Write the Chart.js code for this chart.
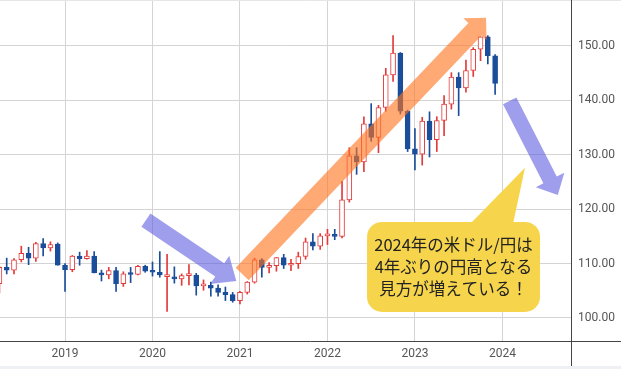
<!DOCTYPE html>
<html>
<head>
<meta charset="utf-8">
<script src="https://cdn.jsdelivr.net/npm/chart.js@4.4.1/dist/chart.umd.min.js"></script>
<style>
body{margin:0;background:#eef0f4;}
#wrap{width:621px;height:366px;background:#fff;}
</style>
</head>
<body>
<div id="wrap"><canvas id="c" width="621" height="366"></canvas></div>
<script>
// monthly USD/JPY candles, Apr 2018 .. Dec 2023
var months = ['2018-04','2018-05','2018-06','2018-07','2018-08','2018-09','2018-10','2018-11','2018-12',
  '2019-01','2019-02','2019-03','2019-04','2019-05','2019-06','2019-07','2019-08','2019-09','2019-10','2019-11','2019-12',
  '2020-01','2020-02','2020-03','2020-04','2020-05','2020-06','2020-07','2020-08','2020-09','2020-10','2020-11','2020-12',
  '2021-01','2021-02','2021-03','2021-04','2021-05','2021-06','2021-07','2021-08','2021-09','2021-10','2021-11','2021-12',
  '2022-01','2022-02','2022-03','2022-04','2022-05','2022-06','2022-07','2022-08','2022-09','2022-10','2022-11','2022-12',
  '2023-01','2023-02','2023-03','2023-04','2023-05','2023-06','2023-07','2023-08','2023-09','2023-10','2023-11','2023-12'];
var opens  = [106.3,109.3,108.8,110.7,111.9,111.0,113.7,112.9,113.6,
  109.7,108.9,111.4,110.9,111.4,108.3,107.9,108.7,106.3,108.1,108.0,109.5,
  108.6,108.4,107.6,107.5,107.2,107.8,107.9,105.9,106.0,105.5,104.7,104.3,
  103.2,104.7,106.6,110.7,109.3,109.6,111.1,109.7,110.0,111.3,114.0,113.2,
  115.1,115.3,115.0,121.7,129.8,128.7,135.7,133.2,138.7,144.7,148.7,138.0,
  131.1,130.1,136.2,132.8,136.3,139.3,144.3,142.3,145.5,149.4,151.7,148.2];
var highs  = [109.5,111.0,110.9,113.2,113.0,113.9,114.6,114.0,113.8,
  110.0,111.5,112.1,112.4,112.2,108.8,109.3,109.3,108.5,109.3,109.7,109.7,
  110.3,112.2,111.7,109.4,108.1,109.8,108.2,107.0,106.6,106.1,105.7,104.7,
  104.9,106.7,111.0,110.9,110.2,111.1,111.7,110.8,112.1,114.7,115.5,115.5,
  116.3,116.3,125.1,131.3,131.3,137.0,139.4,139.1,145.9,151.9,148.8,138.2,
  134.8,136.9,137.9,137.0,140.9,145.1,145.1,147.4,149.7,151.7,151.9,148.4];
var lows   = [104.6,108.1,108.1,110.3,109.8,110.4,111.4,112.3,109.7,
  104.9,108.5,109.7,110.8,108.3,106.8,107.2,104.9,105.8,106.5,107.9,108.4,
  107.7,107.5,101.2,106.4,106.0,106.1,104.2,105.1,104.0,104.0,103.2,102.9,
  102.6,104.4,106.4,107.5,108.3,108.6,109.1,108.7,109.1,110.8,112.5,112.6,
  113.5,114.4,114.7,121.3,126.4,126.9,132.5,130.4,138.0,143.5,137.5,130.6,
  127.2,128.1,129.6,130.6,133.5,138.4,137.2,141.5,144.4,147.3,146.7,141.1];
var closes = [109.3,108.8,110.7,111.9,111.0,113.7,112.9,113.5,109.7,
  108.9,111.4,110.9,111.4,108.3,107.9,108.7,106.3,108.1,108.0,109.5,108.6,
  108.4,107.9,107.9,107.2,107.8,107.9,105.9,106.0,105.5,104.7,104.3,103.2,
  104.7,106.6,110.7,109.3,109.6,111.1,109.7,110.0,111.3,114.0,113.2,115.1,
  115.3,115.0,121.7,129.8,128.7,135.7,133.2,138.7,144.7,148.7,138.0,131.1,
  130.1,136.2,132.8,136.3,139.3,144.3,142.3,145.5,149.4,151.7,148.2,143.1];

var yearTicks  = [0, 12, 24, 36, 48, 60];
var yearLabels = ['2019', '2020', '2021', '2022', '2023', '2024'];
var priceTicks = [100, 110, 120, 130, 140, 150];

var RED = '#e23b3b', BLUE = '#1a4d9a';

// month index, Jan 2019 = 0
var xs = months.map(function(m){
  var p = m.split('-');
  return (parseInt(p[0]) - 2019) * 12 + parseInt(p[1]) - 1;
});
var up = closes.map(function(c, i){ return c >= opens[i]; });

// annotations in data units (month index, price)
var arrows = [
  {from: [24.3, 108.1], to: [57.75, 155.2], w: 18, hl: 16, hw: 16, color: 'rgba(255,116,33,0.62)'},
  {from: [11.1, 118.0], to: [23.5, 106.8], w: 16, hl: 20, hw: 17, color: 'rgba(88,88,222,0.58)'},
  {from: [61.0, 139.9], to: [67.6, 122.6], w: 15, hl: 17, hw: 16, color: 'rgba(88,88,222,0.58)'}
];
var bubble = {x0: 41.43, x1: 65.16, y0: 117.65, y1: 101.1, tip: [63.1, 127.6], baseX: [55.56, 61.45],
  lines: ['2024年の米ドル/円は', '4年ぶりの円高となる', '見方が増えている！']};

function drawArrow(ctx, x0, y0, x1, y1, w, hl, hw, color) {
  var dx = x1 - x0, dy = y1 - y0, L = Math.hypot(dx, dy);
  var ux = dx / L, uy = dy / L, nx = -uy, ny = ux;
  var bx = x1 - ux * hl, by = y1 - uy * hl;
  ctx.beginPath();
  ctx.moveTo(x0 + nx * w / 2, y0 + ny * w / 2);
  ctx.lineTo(bx + nx * w / 2, by + ny * w / 2);
  ctx.lineTo(bx + nx * hw, by + ny * hw);
  ctx.lineTo(x1, y1);
  ctx.lineTo(bx - nx * hw, by - ny * hw);
  ctx.lineTo(bx - nx * w / 2, by - ny * w / 2);
  ctx.lineTo(x0 - nx * w / 2, y0 - ny * w / 2);
  ctx.closePath();
  ctx.fillStyle = color;
  ctx.fill();
}

var overlay = {
  id: 'overlay',
  afterDatasetsDraw: function(chart) {
    var ctx = chart.ctx, sx = chart.scales.x, sy = chart.scales.y;
    ctx.save();
    arrows.forEach(function(r){
      drawArrow(ctx, sx.getPixelForValue(r.from[0]), sy.getPixelForValue(r.from[1]),
        sx.getPixelForValue(r.to[0]), sy.getPixelForValue(r.to[1]), r.w, r.hl, r.hw, r.color);
    });
    // callout
    var bx0 = sx.getPixelForValue(bubble.x0), bx1 = sx.getPixelForValue(bubble.x1);
    var by0 = sy.getPixelForValue(bubble.y0), by1 = sy.getPixelForValue(bubble.y1);
    ctx.fillStyle = '#f6d54d';
    ctx.beginPath();
    ctx.roundRect(bx0, by0, bx1 - bx0, by1 - by0, 15);
    ctx.fill();
    ctx.beginPath();
    ctx.moveTo(sx.getPixelForValue(bubble.baseX[0]), by0 + 2);
    ctx.lineTo(sx.getPixelForValue(bubble.tip[0]), sy.getPixelForValue(bubble.tip[1]));
    ctx.lineTo(sx.getPixelForValue(bubble.baseX[1]), by0 + 2);
    ctx.closePath();
    ctx.fill();
    ctx.fillStyle = '#222';
    ctx.font = '16.5px "Noto Sans CJK JP"';
    ctx.textAlign = 'center';
    ctx.textBaseline = 'middle';
    var cx = (bx0 + bx1) / 2, cy = (by0 + by1) / 2;
    bubble.lines.forEach(function(t, i){ ctx.fillText(t, cx, cy + (i - 1) * 22); });
    ctx.restore();
  },
  afterDraw: function(chart) {
    var ctx = chart.ctx, a = chart.chartArea;
    ctx.save();
    ctx.strokeStyle = '#e6e6e6';
    ctx.beginPath(); ctx.moveTo(0, 0.5); ctx.lineTo(chart.width, 0.5); ctx.stroke();
    ctx.strokeStyle = '#444';
    ctx.lineWidth = 1;
    ctx.beginPath();
    ctx.moveTo(0, Math.round(a.bottom) + 0.5); ctx.lineTo(chart.width, Math.round(a.bottom) + 0.5);
    ctx.moveTo(Math.round(a.right) + 0.5, 0); ctx.lineTo(Math.round(a.right) + 0.5, chart.height);
    ctx.stroke();
    ctx.restore();
  }
};

new Chart(document.getElementById('c'), {
  type: 'bar',
  data: {
    datasets: [
      {
        label: 'wick',
        data: xs.map(function(x, i){ return {x: x, y: [lows[i], highs[i]]}; }),
        backgroundColor: up.map(function(u){ return u ? RED : BLUE; }),
        barThickness: 1,
        grouped: false,
        order: 2
      },
      {
        label: 'body',
        data: xs.map(function(x, i){ return {x: x, y: [opens[i], closes[i]]}; }),
        backgroundColor: up.map(function(u){ return u ? '#ffffff' : BLUE; }),
        borderColor: up.map(function(u){ return u ? RED : BLUE; }),
        borderWidth: 1,
        borderSkipped: false,
        barThickness: 5,
        minBarLength: 2,
        grouped: false,
        order: 1
      }
    ]
  },
  options: {
    responsive: false,
    animation: false,
    layout: {padding: {top: 1, left: 0, right: 0, bottom: 0}},
    plugins: {legend: {display: false}, tooltip: {enabled: false}},
    scales: {
      x: {
        type: 'linear',
        offset: false,
        min: -8.92,
        max: 69.41,
        grid: {color: '#d4d4d4', drawTicks: false, offset: false},
        border: {display: false},
        ticks: {
          color: '#555',
          font: {family: 'Roboto', size: 12},
          padding: 6,
          maxRotation: 0,
          callback: function(v){ return yearLabels[yearTicks.indexOf(v)]; }
        },
        afterBuildTicks: function(s){ s.ticks = yearTicks.map(function(v){ return {value: v}; }); },
        afterFit: function(s){ s.height = 25; s.paddingLeft = 0; s.paddingRight = 0; }
      },
      y: {
        position: 'right',
        min: 95.77,
        max: 158.27,
        grid: {color: '#d4d4d4', drawTicks: false},
        border: {display: false},
        ticks: {
          color: '#555',
          font: {family: 'Roboto', size: 12},
          padding: 7,
          callback: function(v){ return v.toFixed(2); }
        },
        afterBuildTicks: function(s){ s.ticks = priceTicks.map(function(v){ return {value: v}; }); },
        afterFit: function(s){ s.width = 50; s.paddingTop = 0; s.paddingBottom = 0; }
      }
    }
  },
  plugins: [overlay]
});
</script>
</body>
</html>
